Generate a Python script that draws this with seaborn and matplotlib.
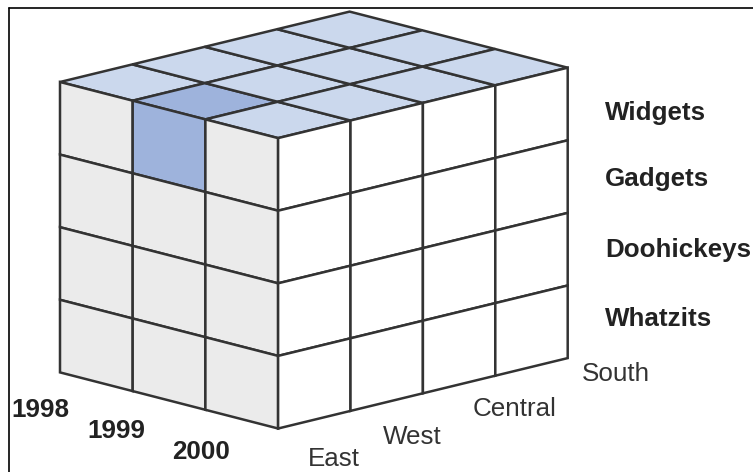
import numpy as np
import seaborn as sns
import matplotlib.pyplot as plt

# Cube dimensions (OLAP-style data cube)
years = ['1998', '1999', '2000']
regions = ['East', 'West', 'Central', 'South']
products = ['Widgets', 'Gadgets', 'Doohickeys', 'Whatzits']

# Selected cell of the cube
selected = ('1999', 'East', 'Widgets')

sns.set_theme(style='white')
plt.rcParams['font.family'] = ['Liberation Sans', 'DejaVu Sans']

# Projection of cube coordinates (year, region, product-depth) to pixels
origin = np.array([60.0, 82.0])
e_year = np.array([72.7, 18.7])
e_region = np.array([72.4, -17.6])
e_prod = np.array([0.0, 72.6])


def proj(y, r, p):
    return origin + y * e_year + r * e_region + p * e_prod


fig = plt.figure(figsize=(7.53, 4.72), dpi=100)
ax = fig.add_axes([0, 0, 1, 1])
ax.set_xlim(0, 753)
ax.set_ylim(472, 0)
ax.axis('off')

line_col = '#333333'
lw = 1.8
top_col = '#cbd8ed'
front_col = '#ebebeb'
right_col = '#ffffff'
sel_col = '#9eb3dc'

ny, nr, npr = len(years), len(regions), len(products)
sy = years.index(selected[0])
sr = regions.index(selected[1])
sp = products.index(selected[2])


def cell(corners, color):
    pts = np.array(corners)
    ax.fill(pts[:, 0], pts[:, 1], facecolor=color, edgecolor=line_col,
            linewidth=lw, joinstyle='miter')


# top face (year x region)
for yi in range(ny):
    for ri in range(nr):
        c = sel_col if (yi == sy and ri == sr and sp == 0) else top_col
        cell([proj(yi, ri, 0), proj(yi + 1, ri, 0),
              proj(yi + 1, ri + 1, 0), proj(yi, ri + 1, 0)], c)

# front face (year x product)
for yi in range(ny):
    for pi in range(npr):
        c = sel_col if (yi == sy and pi == sp and sr == 0) else front_col
        cell([proj(yi, 0, pi), proj(yi + 1, 0, pi),
              proj(yi + 1, 0, pi + 1), proj(yi, 0, pi + 1)], c)

# right face (region x product)
for ri in range(nr):
    for pi in range(npr):
        cell([proj(ny, ri, pi), proj(ny, ri + 1, pi),
              proj(ny, ri + 1, pi + 1), proj(ny, ri, pi + 1)], right_col)

fs = 18.7
# product labels
prod_pos = [(605, 113), (605, 179), (605, 250), (605, 319)]
for name, (x, y) in zip(products, prod_pos):
    ax.text(x, y, name, fontsize=fs, fontweight='bold', color='#222222',
            ha='left', va='center')

# year labels
year_pos = [(40, 410), (116, 431), (201, 452)]
for name, (x, y) in zip(years, year_pos):
    ax.text(x, y, name, fontsize=fs, fontweight='bold', color='#222222',
            ha='center', va='center')

# region labels
region_pos = [(334, 459), (412, 437), (515, 409), (616, 374)]
for name, (x, y) in zip(regions, region_pos):
    ax.text(x, y, name, fontsize=fs, color='#333333',
            ha='center', va='center')

# frame (top and left edges)
ax.plot([9, 753], [8, 8], color='black', lw=1.2)
ax.plot([9, 9], [8, 472], color='black', lw=1.2)

fig.savefig('out.png', dpi=100)
